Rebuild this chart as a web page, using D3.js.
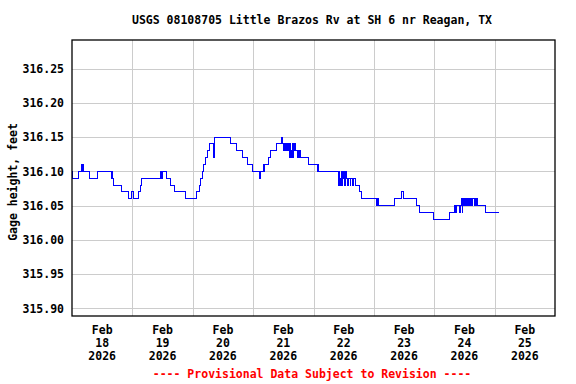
<!DOCTYPE html>
<html>
<head>
<meta charset="utf-8">
<script src="https://cdn.jsdelivr.net/npm/d3@7"></script>
<style>
  body { margin: 0; background: #fff; }
  text { font-family: "DejaVu Sans Mono", "Liberation Mono", monospace; font-weight: bold; }
</style>
</head>
<body>
<div id="chart"></div>
<script>
// gage readings: hours after 2026-02-18 00:00 and gage height (ft), step changes
const hours = [
  0.0, 0.25, 2.5, 3.6, 4.0, 4.3, 4.6, 6.9, 10.0, 15.6, 15.9, 16.2, 16.5, 19.5,
  22.4, 23.6, 24.4, 26.3, 27.1, 27.5, 35.2, 35.5, 35.8, 37.6, 39.2, 40.6, 45.3,
  49.3, 50.6, 51.1, 51.7, 52.3, 53.1, 53.9, 54.8, 56.3, 56.5, 56.8, 63.1, 65.4,
  67.7, 69.7, 71.9, 74.4, 75.0, 76.0, 76.3, 76.6, 78.0, 79.0, 81.1, 83.2, 83.5,
  84.0, 84.25, 84.5, 84.75, 85.0, 85.25, 85.5, 85.75, 86.0, 86.25, 86.5, 86.75,
  87.0, 87.25, 87.5, 87.75, 87.9, 88.1, 88.5, 88.75, 89.0, 89.5, 89.75, 90.0,
  90.25, 90.5, 90.75, 91.0, 93.9, 97.6, 97.85, 98.1,
  105.8, 106.0, 106.25, 106.5, 106.75, 107.0, 107.25, 107.5, 107.75, 108.0,
  108.25, 108.5, 108.75, 109.0, 109.5, 109.75, 110.6, 110.85, 111.6, 111.85,
  112.5, 114.2, 115.1, 121.1, 121.4, 121.7, 128.3, 130.9, 131.6, 137.0, 138.0,
  143.6, 150.2, 151.9, 152.3, 152.9, 154.0, 154.25, 154.9, 155.1, 155.35, 155.8,
  156.05, 156.5, 156.75, 157.3, 157.55, 158.1, 158.35, 158.9, 159.15, 160.0,
  160.25, 160.5, 160.75, 161.0, 164.4, 169.7
];
const gage = [
  316.10, 316.09, 316.10, 316.11, 316.10, 316.11, 316.10, 316.09, 316.10, 316.09, 316.10, 316.09, 316.08, 316.07,
  316.06, 316.07, 316.06, 316.07, 316.08, 316.09, 316.10, 316.09, 316.10, 316.09, 316.08, 316.07, 316.06,
  316.07, 316.08, 316.09, 316.10, 316.11, 316.12, 316.13, 316.14, 316.12, 316.14, 316.15, 316.14, 316.13,
  316.12, 316.11, 316.10, 316.09, 316.10, 316.11, 316.10, 316.11, 316.12, 316.13, 316.14, 316.15, 316.14,
  316.13, 316.14, 316.13, 316.14, 316.13, 316.14, 316.13, 316.14, 316.13, 316.14, 316.12, 316.14,
  316.13, 316.12, 316.14, 316.13, 316.12, 316.14, 316.13, 316.14, 316.13, 316.12, 316.13, 316.12,
  316.13, 316.12, 316.13, 316.12, 316.11, 316.10, 316.11, 316.10,
  316.09, 316.08, 316.10, 316.08, 316.09, 316.10, 316.08, 316.10, 316.09, 316.10,
  316.09, 316.08, 316.10, 316.09, 316.08, 316.09, 316.08, 316.09, 316.08, 316.09,
  316.08, 316.07, 316.06, 316.05, 316.06, 316.05, 316.06, 316.07, 316.06, 316.05, 316.04,
  316.03, 316.04, 316.05, 316.04, 316.05, 316.04, 316.05, 316.06, 316.04, 316.06, 316.05,
  316.06, 316.05, 316.06, 316.05, 316.06, 316.05, 316.06, 316.05, 316.06, 316.05,
  316.06, 316.05, 316.06, 316.05, 316.04, 316.04
];
const yTicks = [315.90, 315.95, 316.00, 316.05, 316.10, 316.15, 316.20, 316.25];
const dayLabels = ["18", "19", "20", "21", "22", "23", "24", "25"];

const start = Date.UTC(2026, 1, 18);
const hourMs = 3600 * 1000;

const W = 576, H = 384;
const plot = { left: 72, right: 555, top: 40, bottom: 316 };

const svg = d3.select("#chart").append("svg")
  .attr("width", W).attr("height", H);

const x = d3.scaleUtc()
  .domain([new Date(start), new Date(start + 8 * 24 * hourMs)])
  .range([plot.left, plot.right]);
const y = d3.scaleLinear()
  .domain([315.889, 316.2916])
  .range([plot.bottom, plot.top]);

// grid
const dayTicks = d3.range(1, 8).map(d => new Date(start + d * 24 * hourMs));
svg.append("g")
  .attr("transform", `translate(0,${plot.bottom})`)
  .call(d3.axisBottom(x).tickValues(dayTicks).tickSize(-(plot.bottom - plot.top)).tickFormat(""))
  .call(g => g.select(".domain").remove())
  .call(g => g.selectAll("line").attr("stroke", "#cccccc").attr("shape-rendering", "crispEdges"));

svg.append("g")
  .attr("transform", `translate(${plot.left},0)`)
  .call(d3.axisLeft(y).tickValues(yTicks).tickSize(-(plot.right - plot.left)).tickFormat(""))
  .call(g => g.select(".domain").remove())
  .call(g => g.selectAll("line").attr("stroke", "#cccccc").attr("shape-rendering", "crispEdges"));

// y tick labels
svg.append("g")
  .attr("transform", `translate(${plot.left},0)`)
  .call(d3.axisLeft(y).tickValues(yTicks).tickSize(0).tickPadding(8).tickFormat(d3.format(".2f")))
  .call(g => g.select(".domain").remove())
  .call(g => g.selectAll("text")
    .attr("font-size", "11.5px").attr("fill", "#000")
    .style("font-family", "'DejaVu Sans Mono', monospace").style("font-weight", "bold"));

// x labels at noon of each day
const xl = svg.append("g");
dayLabels.forEach((dl, i) => {
  const cx = x(new Date(start + (i * 24 + 12) * hourMs));
  const t = xl.append("text")
    .attr("text-anchor", "middle")
    .attr("font-size", "11.5px");
  t.append("tspan").attr("x", cx).attr("y", 334).text("Feb");
  t.append("tspan").attr("x", cx).attr("y", 347).text(dl);
  t.append("tspan").attr("x", cx).attr("y", 360).text("2026");
});

// data line
const data = hours.map((h, i) => ({ t: new Date(start + h * hourMs), v: gage[i] }));
const line = d3.line()
  .x(d => x(d.t))
  .y(d => y(d.v))
  .curve(d3.curveStepAfter);

svg.append("path")
  .datum(data)
  .attr("fill", "none")
  .attr("stroke", "#0000ff")
  .attr("stroke-width", 1)
  .attr("shape-rendering", "crispEdges")
  .attr("d", line);

// frame
svg.append("rect")
  .attr("x", plot.left).attr("y", plot.top)
  .attr("width", plot.right - plot.left).attr("height", plot.bottom - plot.top)
  .attr("fill", "none").attr("stroke", "#000").attr("stroke-width", 1.3);

// title, axis label, footer
svg.append("text")
  .attr("x", 312).attr("y", 24)
  .attr("text-anchor", "middle")
  .attr("font-size", "11.5px")
  .text("USGS 08108705 Little Brazos Rv at SH 6 nr Reagan, TX");

svg.append("text")
  .attr("transform", `translate(17,${(plot.top + plot.bottom) / 2 + 4}) rotate(-90)`)
  .attr("text-anchor", "middle")
  .attr("font-size", "11.5px")
  .text("Gage height, feet");

svg.append("text")
  .attr("x", 312).attr("y", 378)
  .attr("text-anchor", "middle")
  .attr("font-size", "11.5px")
  .attr("fill", "#ff0000")
  .text("---- Provisional Data Subject to Revision ----");
</script>
</body>
</html>
